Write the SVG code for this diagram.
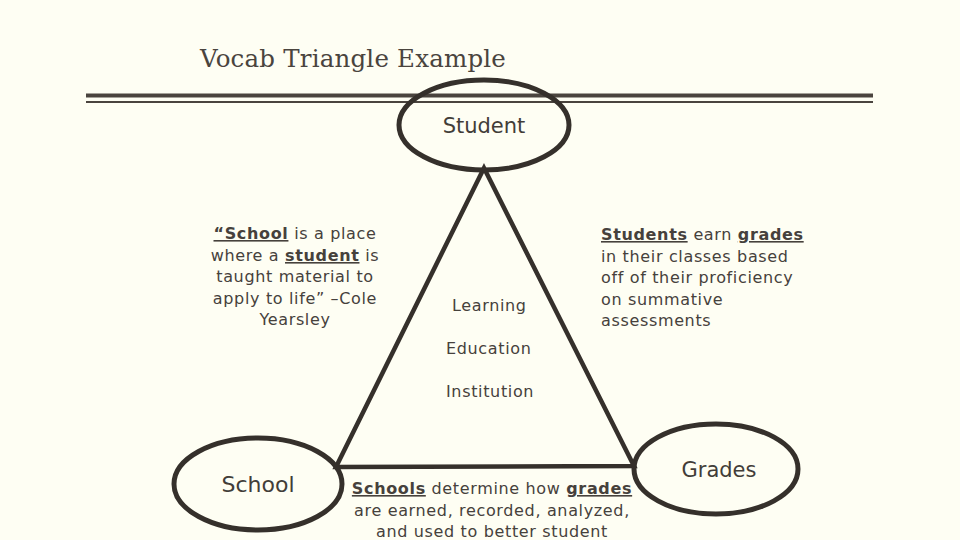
<svg xmlns="http://www.w3.org/2000/svg" width="960" height="540" viewBox="0 0 960 540">
<style>
.bg{fill:#fefef3}
.node{fill:none;stroke:#35302b;stroke-width:5}
.edge{fill:none;stroke:#35302b;stroke-width:4.5;stroke-linejoin:miter}
.t{font-family:"DejaVu Sans","Liberation Sans",sans-serif;fill:#46413c;font-size:16px;letter-spacing:0.65px}
.lbl{font-family:"DejaVu Sans","Liberation Sans",sans-serif;fill:#423d38;text-anchor:middle}
.b{font-weight:bold;text-decoration:underline}
.title{font-family:"DejaVu Serif","Liberation Serif",serif;fill:#4a443e;font-size:24.5px;letter-spacing:0.2px}
</style>
<rect class="bg" x="0" y="0" width="960" height="540"/>
<text class="title" x="200" y="67">Vocab Triangle Example</text>
<g id="rule">
<rect x="86" y="93.5" width="787" height="4" fill="#4a443e"/>
<rect x="86" y="101" width="787" height="2" fill="#4a443e"/>
</g>
<g id="connectors">
<path class="edge" d="M484,168 L336,467 L634,466 Z"/>
</g>
<g id="student">
<ellipse class="node" cx="484" cy="125" rx="85" ry="45" fill="none"/>
<text class="lbl" x="484" y="133" font-size="21">Student</text>
</g>
<g id="school">
<ellipse class="node" cx="258" cy="484" rx="84" ry="46"/>
<text class="lbl" x="258" y="492" font-size="22">School</text>
</g>
<g id="grades">
<ellipse class="node" cx="716" cy="469" rx="82" ry="45"/>
<text class="lbl" x="719" y="477" font-size="21">Grades</text>
</g>
<g id="quote-left">
<text class="t" text-anchor="middle" x="295" y="239"><tspan class="b">“School</tspan> is a place</text>
<text class="t" text-anchor="middle" x="295" y="261">where a <tspan class="b">student</tspan> is</text>
<text class="t" text-anchor="middle" x="295" y="282">taught material to</text>
<text class="t" text-anchor="middle" x="295" y="304">apply to life” –Cole</text>
<text class="t" text-anchor="middle" x="295" y="325">Yearsley</text>
</g>
<g id="quote-right">
<text class="t" x="601" y="240"><tspan class="b">Students</tspan> earn <tspan class="b">grades</tspan></text>
<text class="t" x="601" y="262">in their classes based</text>
<text class="t" x="601" y="283">off of their proficiency</text>
<text class="t" x="601" y="305">on summative</text>
<text class="t" x="601" y="326">assessments</text>
</g>
<g id="inner">
<text class="t" x="452" y="311">Learning</text>
<text class="t" x="446" y="354">Education</text>
<text class="t" x="446" y="397">Institution</text>
</g>
<g id="quote-bottom">
<text class="t" text-anchor="middle" x="492" y="494"><tspan class="b">Schools</tspan> determine how <tspan class="b">grades</tspan></text>
<text class="t" text-anchor="middle" x="492" y="516">are earned, recorded, analyzed,</text>
<text class="t" text-anchor="middle" x="492" y="537">and used to better student</text>
</g>
</svg>
